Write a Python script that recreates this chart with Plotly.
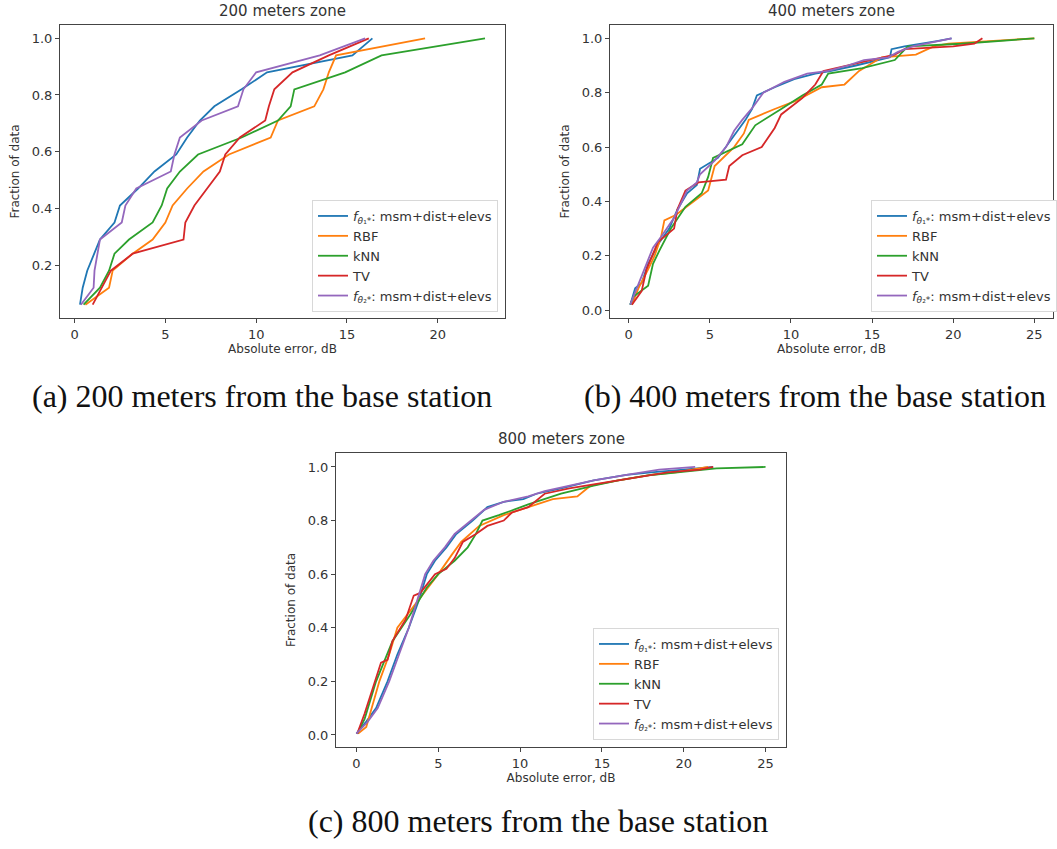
import plotly.graph_objects as go

W, H = 1057, 849

series_names = [
    "<i>f</i><sub><i>θ</i>₁*</sub>: msm+dist+elevs",
    "RBF",
    "kNN",
    "TV",
    "<i>f</i><sub><i>θ</i>₂*</sub>: msm+dist+elevs",
]
colors = ["#1f77b4", "#ff7f0e", "#2ca02c", "#d62728", "#9467bd"]

# ---- 200 meters zone (17 samples per curve)
frac200 = [0.06, 0.12, 0.18, 0.24, 0.29, 0.35, 0.41, 0.47, 0.53,
           0.59, 0.65, 0.71, 0.76, 0.82, 0.88, 0.94, 1.0]
err200_f1 = [0.3, 0.45, 0.7, 1.1, 1.4, 2.2, 2.5, 3.5, 4.4, 5.6, 6.2, 6.9, 7.7, 9.2, 10.6, 15.3, 16.4]
err200_rbf = [0.6, 1.9, 2.1, 3.2, 4.3, 5.0, 5.4, 6.2, 7.1, 8.5, 10.8, 11.2, 13.2, 13.7, 14.0, 14.4, 19.3]
err200_knn = [0.5, 1.4, 1.9, 2.2, 3.0, 4.3, 4.8, 5.1, 5.8, 6.8, 9.2, 11.2, 11.9, 12.1, 14.9, 16.9, 22.6]
err200_tv = [1.0, 1.5, 2.0, 3.2, 6.0, 6.1, 6.6, 7.3, 8.0, 8.3, 9.1, 10.5, 10.7, 11.0, 12.0, 14.0, 16.2]
err200_f2 = [0.35, 1.05, 1.1, 1.25, 1.4, 2.6, 2.8, 3.4, 5.3, 5.5, 5.8, 7.0, 9.0, 9.3, 10.0, 13.5, 16.0]

# ---- 400 meters zone
err400_f1 = [0.1, 0.4, 0.8, 1.2, 1.9, 2.5, 3.0, 3.6, 4.2, 4.4, 5.5, 6.0, 6.6, 7.2, 7.6, 7.9,
             9.0, 10.2, 11.5, 12.5, 14.0, 15.5, 16.1, 16.2, 17.0, 19.0, 19.9]
frac400_f1 = [0.02, 0.08, 0.10, 0.17, 0.25, 0.30, 0.37, 0.43, 0.46, 0.52, 0.56, 0.60, 0.65, 0.70, 0.74, 0.79,
              0.82, 0.85, 0.87, 0.88, 0.90, 0.92, 0.93, 0.96, 0.97, 0.99, 1.0]
err400_rbf = [0.2, 0.6, 1.2, 1.6, 2.0, 2.2, 2.9, 4.0, 4.9, 5.3, 6.5, 7.1, 7.4, 9.0, 10.3, 11.9,
              13.3, 14.2, 15.6, 17.7, 18.8, 19.7, 25.0]
frac400_rbf = [0.02, 0.08, 0.15, 0.20, 0.27, 0.33, 0.35, 0.40, 0.44, 0.53, 0.60, 0.65, 0.70, 0.74, 0.77, 0.82,
               0.83, 0.88, 0.93, 0.94, 0.97, 0.98, 1.0]
err400_knn = [0.1, 0.3, 1.2, 1.5, 1.9, 2.6, 3.5, 4.5, 4.9, 5.2, 7.0, 7.8, 9.4, 10.7, 11.9, 12.3,
              14.4, 16.4, 17.2, 20.5, 25.0]
frac400_knn = [0.02, 0.05, 0.09, 0.17, 0.22, 0.30, 0.38, 0.43, 0.49, 0.56, 0.61, 0.68, 0.74, 0.79, 0.83, 0.87,
               0.89, 0.92, 0.97, 0.98, 1.0]
err400_tv = [0.2, 0.8, 1.1, 1.8, 2.8, 3.0, 3.5, 4.3, 6.0, 6.2, 7.0, 8.2, 9.0, 9.4, 10.7, 11.5,
             12.0, 13.5, 15.0, 16.4, 17.0, 20.0, 21.3, 21.8]
frac400_tv = [0.02, 0.07, 0.15, 0.25, 0.30, 0.37, 0.44, 0.47, 0.48, 0.53, 0.57, 0.60, 0.67, 0.72, 0.78, 0.83,
              0.88, 0.90, 0.92, 0.94, 0.96, 0.97, 0.98, 1.0]
err400_f2 = [0.1, 0.5, 1.0, 1.5, 2.0, 2.8, 3.6, 4.2, 4.4, 5.3, 6.0, 6.5, 7.0, 7.7, 8.3, 9.6,
             11.0, 12.3, 13.5, 14.5, 16.0, 16.6, 17.5, 19.0, 19.9]
frac400_f2 = [0.02, 0.08, 0.16, 0.23, 0.27, 0.34, 0.44, 0.47, 0.50, 0.55, 0.60, 0.66, 0.70, 0.75, 0.80, 0.84,
              0.87, 0.88, 0.90, 0.92, 0.93, 0.95, 0.97, 0.99, 1.0]

# ---- 800 meters zone
err800_f1 = [0.0, 0.6, 1.2, 1.9, 2.5, 3.2, 3.8, 4.3, 4.8, 5.5, 6.1, 7.1, 8.0, 9.0, 10.2, 11.0,
             12.5, 14.5, 16.5, 18.0, 20.0, 21.8]
frac800_f1 = [0.005, 0.05, 0.10, 0.20, 0.30, 0.40, 0.50, 0.60, 0.65, 0.70, 0.75, 0.80, 0.85, 0.87, 0.88, 0.90,
              0.92, 0.95, 0.97, 0.98, 0.99, 1.0]
err800_rbf = [0.1, 0.6, 1.4, 2.0, 2.5, 3.0, 3.7, 5.0, 5.8, 6.4, 7.5, 9.0, 10.5, 12.0, 13.5, 14.3,
              16.0, 18.0, 19.5, 21.5]
frac800_rbf = [0.005, 0.03, 0.20, 0.30, 0.40, 0.44, 0.50, 0.60, 0.67, 0.72, 0.78, 0.82, 0.85, 0.88, 0.89, 0.93,
               0.95, 0.97, 0.98, 1.0]
err800_knn = [0.05, 0.5, 1.2, 2.2, 3.3, 4.3, 5.0, 6.0, 6.8, 7.3, 7.7, 8.7, 10.5, 12.5, 14.5, 16.0,
              18.0, 21.0, 22.0, 25.0]
frac800_knn = [0.005, 0.06, 0.20, 0.35, 0.45, 0.55, 0.60, 0.65, 0.70, 0.75, 0.80, 0.82, 0.86, 0.90, 0.93, 0.95,
               0.97, 0.99, 0.995, 1.0]
err800_tv = [0.05, 0.5, 1.5, 1.9, 2.2, 3.0, 3.5, 3.9, 4.8, 5.5, 6.0, 6.5, 7.3, 8.0, 9.0, 9.5,
             10.5, 11.5, 13.0, 15.0, 17.0, 19.0, 21.0, 21.8]
frac800_tv = [0.005, 0.08, 0.27, 0.28, 0.35, 0.43, 0.52, 0.53, 0.60, 0.62, 0.66, 0.72, 0.75, 0.78, 0.80, 0.83,
              0.85, 0.90, 0.92, 0.94, 0.96, 0.98, 0.99, 1.0]
err800_f2 = [0.0, 0.7, 1.3, 2.0, 2.6, 3.2, 3.7, 4.2, 4.7, 5.4, 6.0, 7.0, 7.8, 9.0, 10.5, 11.5,
             13.0, 14.5, 16.5, 18.5, 20.7]
frac800_f2 = [0.005, 0.05, 0.10, 0.20, 0.30, 0.40, 0.50, 0.60, 0.65, 0.70, 0.75, 0.80, 0.84, 0.87, 0.89, 0.91,
              0.93, 0.95, 0.97, 0.99, 1.0]

panels = [
    dict(title="200 meters zone", caption="(a) 200 meters from the base station",
         curves=[(err200_f1, frac200), (err200_rbf, frac200), (err200_knn, frac200),
                 (err200_tv, frac200), (err200_f2, frac200)],
         px=(60, 505, 25, 318), xr=[-0.8, 23.7], yr=[0.013, 1.047],
         legend_xy=(498, 312), caption_xy=(262, 416)),
    dict(title="400 meters zone", caption="(b) 400 meters from the base station",
         curves=[(err400_f1, frac400_f1), (err400_rbf, frac400_rbf), (err400_knn, frac400_knn),
                 (err400_tv, frac400_tv), (err400_f2, frac400_f2)],
         px=(610, 1053, 25, 318), xr=[-1.15, 26.15], yr=[-0.029, 1.049],
         legend_xy=(1057, 312), caption_xy=(815, 416)),
    dict(title="800 meters zone", caption="(c) 800 meters from the base station",
         curves=[(err800_f1, frac800_f1), (err800_rbf, frac800_rbf), (err800_knn, frac800_knn),
                 (err800_tv, frac800_tv), (err800_f2, frac800_f2)],
         px=(336, 786, 453, 747), xr=[-1.25, 26.25], yr=[-0.045, 1.052],
         legend_xy=(779, 740), caption_xy=(538, 841)),
]

fig = go.Figure()
annotations = []
text_col = "#333333"
for i, p in enumerate(panels):
    n = "" if i == 0 else str(i + 1)
    lg = "legend" + n
    x0, x1, y0, y1 = p["px"]
    for (xs, ys), name, c in zip(p["curves"], series_names, colors):
        fig.add_trace(go.Scatter(x=xs, y=ys, mode="lines", name=name,
                                 line=dict(color=c, width=1.8),
                                 xaxis="x" + n, yaxis="y" + n, legend=lg))
    ax = dict(showline=True, linecolor="#444444", linewidth=1, mirror=True,
              ticks="outside", ticklen=4, tickcolor="#444444", showgrid=False,
              zeroline=False, tickfont=dict(size=13, color=text_col))
    fig.update_layout({
        "xaxis" + n: dict(ax, domain=[x0 / W, x1 / W], range=p["xr"], dtick=5,
                          anchor="y" + n,
                          title=dict(text="Absolute error, dB", standoff=3,
                                     font=dict(size=12, color=text_col))),
        "yaxis" + n: dict(ax, domain=[1 - y1 / H, 1 - y0 / H], range=p["yr"], dtick=0.2,
                          tickformat=".1f", anchor="x" + n,
                          title=dict(text="Fraction of data", standoff=9,
                                     font=dict(size=12, color=text_col))),
        lg: dict(x=p["legend_xy"][0] / W, y=1 - p["legend_xy"][1] / H,
                 xanchor="right", yanchor="bottom", bgcolor="white",
                 bordercolor="#d8d8d8", borderwidth=1,
                 font=dict(size=13, color=text_col), tracegroupgap=4),
    })
    annotations.append(dict(text=p["title"], x=(x0 + x1) / 2 / W, y=1 - (y0 - 3) / H,
                            xref="paper", yref="paper", xanchor="center", yanchor="bottom",
                            showarrow=False, font=dict(size=15, color=text_col)))
    annotations.append(dict(text=p["caption"], x=p["caption_xy"][0] / W,
                            y=1 - p["caption_xy"][1] / H, xref="paper", yref="paper",
                            xanchor="center", yanchor="bottom", showarrow=False,
                            font=dict(size=32, color="#111111", family="Liberation Serif")))

fig.update_layout(width=W, height=H, margin=dict(l=0, r=0, t=0, b=0),
                  paper_bgcolor="white", plot_bgcolor="white",
                  font=dict(family="DejaVu Sans"), annotations=annotations)

# drop the default page margin so the figure sits at the window origin
fig.write_html("out.html", config={"displayModeBar": False},
               post_script="document.body.style.margin='0';")
